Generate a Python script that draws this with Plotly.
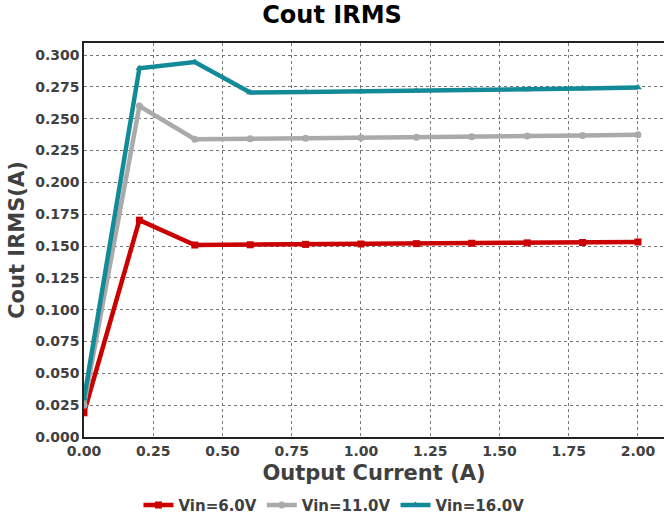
import plotly.graph_objects as go

x_vals = [0.0, 0.2, 0.4, 0.6, 0.8, 1.0, 1.2, 1.4, 1.6, 1.8, 2.0]
vin6 = [0.019, 0.1703, 0.1508, 0.1510, 0.1513, 0.1516, 0.1519, 0.1522, 0.1525, 0.1528, 0.1532]
vin11 = [0.025, 0.2600, 0.2339, 0.2342, 0.2346, 0.2350, 0.2354, 0.2359, 0.2364, 0.2369, 0.2375]
vin16 = [0.030, 0.2897, 0.2945, 0.2706, 0.2710, 0.2714, 0.2719, 0.2724, 0.2730, 0.2737, 0.2745]
names = ["Vin=6.0V", "Vin=11.0V", "Vin=16.0V"]
colors = ["#cc0000", "#aaaaaa", "#138a97"]
symbols = ["square", "circle", "triangle-up"]

fig = go.Figure()
for ys, n, c, s in zip([vin6, vin11, vin16], names, colors, symbols):
    fig.add_trace(go.Scatter(x=x_vals, y=ys, name=n, mode="lines+markers",
                             line=dict(color=c, width=4.5),
                             marker=dict(symbol=s, size=7, color=c)))

font_family = "DejaVu Sans"
fig.update_layout(
    width=664, height=515,
    margin=dict(l=84, r=0, t=43, b=78, autoexpand=False),
    paper_bgcolor="white", plot_bgcolor="white",
    title=dict(text="<b>Cout IRMS</b>", x=0.5, xanchor="center", y=0.988, yanchor="top",
               font=dict(family=font_family, size=24, color="black")),
    font=dict(family=font_family),
    legend=dict(orientation="h", x=0.431, xanchor="center", y=-0.173, yanchor="middle",
                font=dict(family=font_family, size=15, color="#404040", weight="bold"),
                itemwidth=30, tracegroupgap=0),
    xaxis=dict(range=[0, 2.094], tickvals=[0, 0.25, 0.5, 0.75, 1.0, 1.25, 1.5, 1.75, 2.0],
               tickformat=".2f", showgrid=True, gridcolor="#777777", griddash="dot", gridwidth=1,
               showline=True, linecolor="#222222", linewidth=1.5, mirror=True, ticks="",
               automargin=False,
               tickfont=dict(family=font_family, size=14, color="#404040", weight="bold"),
               title=dict(text="<b>Output Current (A)</b>", standoff=8,
                          font=dict(family=font_family, size=21, color="#404040")),
               zeroline=False),
    yaxis=dict(range=[0, 0.3095], dtick=0.025, tick0=0, tickformat=".3f",
               showgrid=True, gridcolor="#777777", griddash="dot", gridwidth=1,
               showline=True, linecolor="#222222", linewidth=1.5, mirror=True, ticks="",
               automargin=False,
               tickfont=dict(family=font_family, size=14, color="#404040", weight="bold"),
               title=dict(text="<b>Cout IRMS(A)</b>", standoff=5,
                          font=dict(family=font_family, size=21, color="#404040")),
               zeroline=False),
)
fig.write_html("out.html", config={"displayModeBar": False},
               post_script="document.body.style.margin='0';document.body.style.overflow='hidden';")
